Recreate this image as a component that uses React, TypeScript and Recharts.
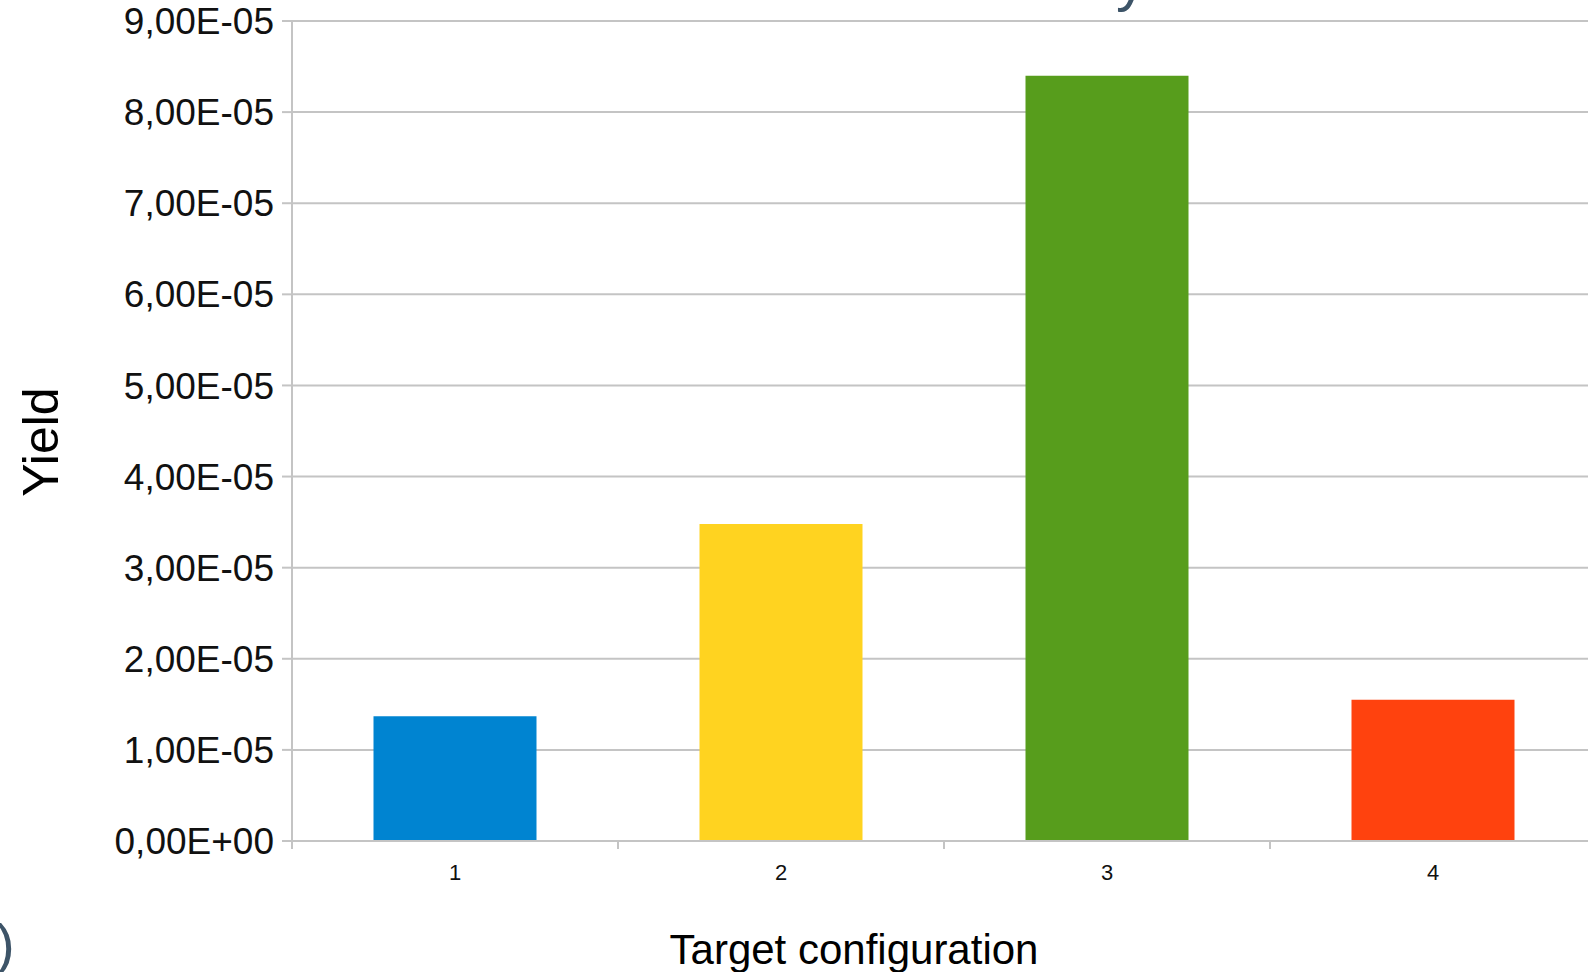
import { Bar, BarChart, CartesianGrid, Cell, XAxis, YAxis } from "recharts";

const configurations = ["1", "2", "3", "4"];
const yieldValues = [1.37e-5, 3.48e-5, 8.4e-5, 1.55e-5];
const barColors = ["#0084d1", "#ffd320", "#579d1c", "#ff420e"];
const yTicks = [0, 1e-5, 2e-5, 3e-5, 4e-5, 5e-5, 6e-5, 7e-5, 8e-5, 9e-5];

const data = configurations.map((name, i) => ({ name, value: yieldValues[i] }));

const FONT = "'Liberation Sans', Arial, sans-serif";
const GRID = "#c4c4c4";
const SLATE = "#3d5468";

// 9e-5 -> "9,00E-05"
function sci(v: number) {
  if (v === 0) return "0,00E+00";
  const [m, e] = v.toExponential(2).split("e");
  const exp = Number(e);
  const sign = exp < 0 ? "-" : "+";
  return `${m.replace(".", ",")}E${sign}${String(Math.abs(exp)).padStart(2, "0")}`;
}

// label centred in the band, tick mark on the band's left boundary
function CategoryTick(props: any) {
  const { x, y, payload } = props;
  const half = payload?.offset ?? 0;
  return (
    <g>
      <line x1={x - half} x2={x - half} y1={y - 8} y2={y} stroke={GRID} strokeWidth={2} />
      <text x={x} y={y + 31} textAnchor="middle" fontSize={22} fontFamily={FONT} fill="#111">
        {payload.value}
      </text>
    </g>
  );
}

export default function App() {
  return (
    <div
      style={{
        position: "absolute",
        left: 0,
        top: 0,
        width: 1588,
        height: 972,
        overflow: "hidden",
        background: "#fff",
      }}
    >
      <BarChart
        width={1600}
        height={972}
        data={data}
        margin={{ top: 21, right: 4, bottom: 0, left: 0 }}
        barCategoryGap="25%"
      >
        <CartesianGrid vertical={false} stroke={GRID} strokeWidth={2} />
        <XAxis
          dataKey="name"
          height={131}
          tickSize={8}
          tickMargin={0}
          tickLine={false}
          axisLine={{ stroke: GRID, strokeWidth: 2 }}
          tick={<CategoryTick />}
          interval={0}
          label={{
            value: "Target configuration",
            position: "insideBottom",
            offset: 8,
            dx: -90,
            fontSize: 42,
            fontFamily: FONT,
            fill: "#000",
          }}
        />
        <YAxis
          width={292}
          domain={[0, 9e-5]}
          ticks={yTicks}
          interval={0}
          tickFormatter={sci}
          tickSize={10}
          tickMargin={8}
          tick={{ fontSize: 37, fontFamily: FONT, fill: "#111" }}
          tickLine={{ stroke: GRID, strokeWidth: 2 }}
          axisLine={{ stroke: GRID, strokeWidth: 2 }}
          label={{
            value: "Yield",
            angle: -90,
            position: "center",
            dx: -106,
            dy: 11,
            fontSize: 50,
            fontFamily: FONT,
            fill: "#000",
          }}
        />
        <Bar dataKey="value" isAnimationActive={false}>
          {data.map((d, i) => (
            <Cell key={d.name} fill={barColors[i]} />
          ))}
        </Bar>
      </BarChart>
      <span
        style={{
          position: "absolute",
          left: 1116,
          top: -50,
          fontSize: 60,
          lineHeight: "60px",
          fontFamily: FONT,
          color: SLATE,
        }}
      >
        y
      </span>
      <span
        style={{
          position: "absolute",
          left: -4,
          top: 916,
          fontSize: 56,
          lineHeight: "56px",
          fontFamily: FONT,
          color: SLATE,
        }}
      >
        )
      </span>
    </div>
  );
}
